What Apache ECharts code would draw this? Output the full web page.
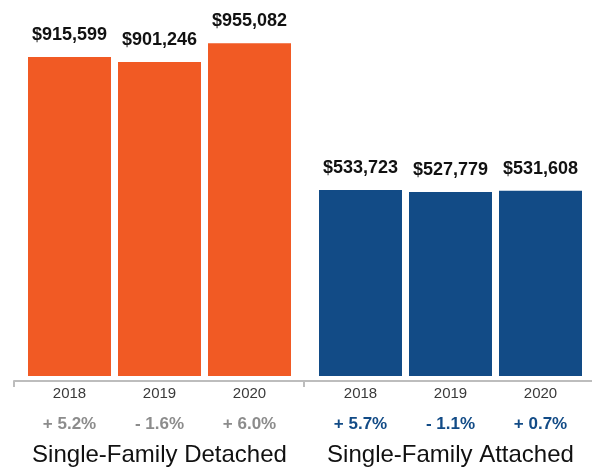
<!DOCTYPE html>
<html>
<head>
<meta charset="utf-8">
<script src="https://cdn.jsdelivr.net/npm/echarts@6/dist/echarts.min.js"></script>
<style>
  html, body { margin: 0; padding: 0; background: #fff; }
  #chart { width: 592px; height: 470px; }
</style>
</head>
<body>
<div id="chart"></div>
<script>
// Median sale prices by year for the two housing types
const years = ['2018', '2019', '2020'];
const detachedPrices = [915599, 901246, 955082];
const attachedPrices = [533723, 527779, 531608];
const detachedChange = ['+ 5.2%', '- 1.6%', '+ 6.0%'];
const attachedChange = ['+ 5.7%', '- 1.1%', '+ 0.7%'];
const groupNames = ['Single-Family Detached', 'Single-Family Attached'];

const FONT = '"Liberation Sans", Arial, Helvetica, sans-serif';
const ORANGE = '#F15A24';
const BLUE = '#124B86';
const AXIS_GREY = '#BDBDBD';

const fmtMoney = v => '$' + v.toLocaleString('en-US');

function groupAxis(gridIndex, changes, changeColor, name) {
  return {
    type: 'category',
    gridIndex: gridIndex,
    data: years,
    axisLine: { show: false },
    axisTick: { show: false },
    axisLabel: {
      margin: 8,
      interval: 0,
      formatter: (val, idx) => '{y|' + val + '}\n{p|' + changes[idx] + '}',
      rich: {
        y: { fontFamily: FONT, fontSize: 15, color: '#3a3a3a', lineHeight: 20 },
        p: { fontFamily: FONT, fontSize: 17, fontWeight: 'bold', color: changeColor, lineHeight: 40 }
      }
    },
    name: name,
    nameLocation: 'middle',
    nameGap: 67,
    nameTextStyle: { fontFamily: FONT, fontSize: 24, color: '#111' }
  };
}

function valueAxis(gridIndex) {
  return { type: 'value', gridIndex: gridIndex, min: 0, max: 1000000, show: false };
}

function barSeries(axisIndex, values, color) {
  return {
    type: 'bar',
    xAxisIndex: axisIndex,
    yAxisIndex: axisIndex,
    data: values,
    barWidth: 83,
    itemStyle: { color: color },
    label: {
      show: true,
      position: 'top',
      distance: 13,
      formatter: p => fmtMoney(p.value),
      fontFamily: FONT,
      fontSize: 18,
      fontWeight: 'bold',
      color: '#111'
    },
    silent: true
  };
}

const chart = echarts.init(document.getElementById('chart'), null, { renderer: 'canvas' });
chart.setOption({
  animation: false,
  backgroundColor: '#fff',
  grid: [
    { left: 24.5, width: 270, top: 27.5, bottom: 94, outerBoundsMode: 'none', containLabel: false },
    { left: 315.5, width: 270, top: 27.5, bottom: 94, outerBoundsMode: 'none', containLabel: false },
    // shared baseline with the group divider ticks
    { left: 14, right: -2, bottom: 89, height: 1, outerBoundsMode: 'none', containLabel: false }
  ],
  xAxis: [
    groupAxis(0, detachedChange, '#8C8C8C', groupNames[0]),
    groupAxis(1, attachedChange, BLUE, groupNames[1]),
    {
      type: 'category',
      gridIndex: 2,
      data: groupNames,
      axisLine: { show: true, lineStyle: { color: AXIS_GREY, width: 2 } },
      axisTick: { show: true, length: 6, lineStyle: { color: AXIS_GREY, width: 2 } },
      axisLabel: { show: false }
    }
  ],
  yAxis: [valueAxis(0), valueAxis(1), valueAxis(2)],
  series: [
    barSeries(0, detachedPrices, ORANGE),
    barSeries(1, attachedPrices, BLUE)
  ]
});
</script>
</body>
</html>
